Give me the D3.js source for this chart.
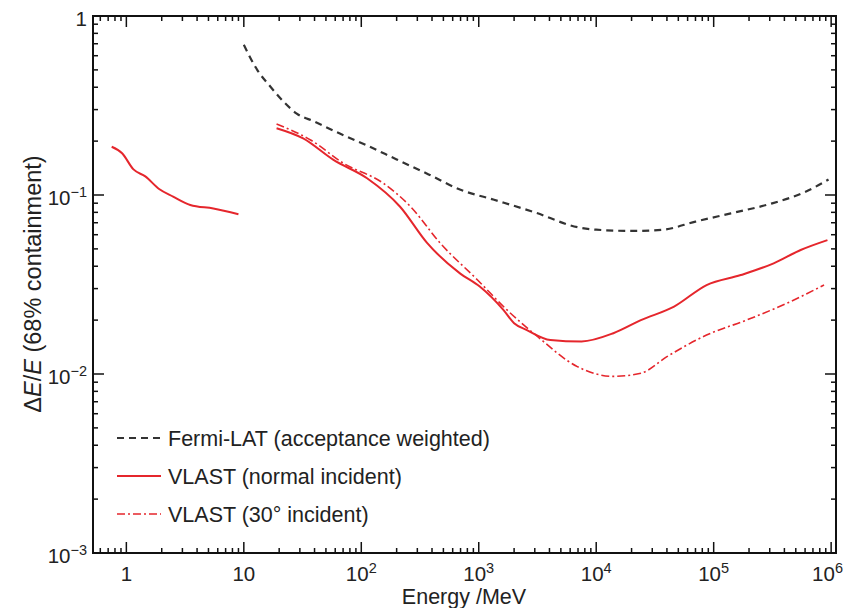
<!DOCTYPE html>
<html>
<head>
<meta charset="utf-8">
<script src="https://cdn.jsdelivr.net/npm/d3@7"></script>
<style>
  html, body { margin: 0; padding: 0; background: #fff; }
  svg { display: block; }
  text { font-family: "Liberation Sans", Arial, Helvetica, sans-serif; fill: #222; }
</style>
</head>
<body>
<svg id="chart" width="844" height="608"></svg>
<script>
// Energy resolution (68% containment) versus energy, in MeV
const fermiEnergy = [10, 13, 17, 22, 28, 40, 65, 110, 200, 360, 700, 1350, 3000, 7000, 10000, 20000, 37000, 70000, 140000, 300000, 600000, 950000];
const fermiRes    = [0.69, 0.50, 0.40, 0.33, 0.286, 0.257, 0.221, 0.19, 0.158, 0.132, 0.107, 0.094, 0.080, 0.066, 0.064, 0.063, 0.064, 0.071, 0.079, 0.089, 0.104, 0.122];

const vlastLowEnergy = [0.75, 0.92, 1.15, 1.45, 1.9, 2.5, 3.5, 5.5, 9.0];
const vlastLowRes    = [0.186, 0.171, 0.139, 0.127, 0.108, 0.098, 0.088, 0.084, 0.078];

const vlastNormalEnergy = [19, 32, 58, 112, 214, 363, 692, 1020, 1620, 2000, 2570, 4070, 7500, 14000, 24000, 46000, 87000, 170000, 324000, 550000, 930000];
const vlastNormalRes    = [0.236, 0.207, 0.157, 0.124, 0.086, 0.054, 0.0365, 0.0308, 0.0228, 0.0192, 0.0176, 0.0155, 0.0152, 0.0169, 0.020, 0.0238, 0.0314, 0.0357, 0.0415, 0.0493, 0.056];

const vlast30Energy = [19, 37, 71, 155, 263, 468, 977, 1740, 3160, 6900, 14000, 24000, 40000, 87000, 190000, 417000, 870000];
const vlast30Res    = [0.249, 0.203, 0.150, 0.116, 0.086, 0.054, 0.0335, 0.0228, 0.0162, 0.011, 0.0097, 0.0101, 0.0125, 0.0165, 0.020, 0.0248, 0.0314];

const xTickExponents = [0, 1, 2, 3, 4, 5, 6];
const yTickExponents = [-3, -2, -1, 0];

const legendLabels = ["Fermi-LAT (acceptance weighted)", "VLAST (normal incident)", "VLAST (30\u00b0 incident)"];

const RED = "#e5262c";
const DARK = "#333";

const svg = d3.select("#chart");
const plot = { left: 93, right: 836, top: 16, bottom: 553 };

const x = d3.scaleLog().domain([0.52, 1.1e6]).range([plot.left, plot.right]);
const y = d3.scaleLog().domain([1e-3, 1]).range([plot.bottom, plot.top]);

const line = d3.line().x(d => x(d[0])).y(d => y(d[1])).curve(d3.curveMonotoneX);
const zip = (a, b) => a.map((v, i) => [v, b[i]]);

const curves = svg.append("g").attr("fill", "none").attr("stroke-linejoin", "round");
curves.append("path")
  .attr("d", line(zip(fermiEnergy, fermiRes)))
  .attr("stroke", DARK).attr("stroke-width", 2.2).attr("stroke-dasharray", "7,5");
curves.append("path")
  .attr("d", line(zip(vlastLowEnergy, vlastLowRes)))
  .attr("stroke", RED).attr("stroke-width", 2);
curves.append("path")
  .attr("d", line(zip(vlastNormalEnergy, vlastNormalRes)))
  .attr("stroke", RED).attr("stroke-width", 2);
curves.append("path")
  .attr("d", line(zip(vlast30Energy, vlast30Res)))
  .attr("stroke", RED).attr("stroke-width", 1.6).attr("stroke-dasharray", "8,3,2,3");

// Frame
svg.append("rect")
  .attr("x", plot.left).attr("y", plot.top)
  .attr("width", plot.right - plot.left).attr("height", plot.bottom - plot.top)
  .attr("fill", "none").attr("stroke", "#111").attr("stroke-width", 2);

// Log ticks on all four sides, pointing inward
function logTicks(scale) {
  const [d0, d1] = scale.domain();
  const out = [];
  for (let e = Math.floor(Math.log10(d0)); e <= Math.ceil(Math.log10(d1)); e++) {
    for (let m = 1; m <= 9; m++) {
      const v = m * Math.pow(10, e);
      if (v >= d0 * 0.999 && v <= d1 * 1.001) out.push({ v, major: m === 1 });
    }
  }
  return out;
}
const ticks = svg.append("g").attr("stroke", "#111").attr("stroke-width", 1.5);
logTicks(x).forEach(t => {
  const len = t.major ? 11 : 5, px = x(t.v);
  ticks.append("line").attr("x1", px).attr("x2", px).attr("y1", plot.bottom).attr("y2", plot.bottom - len);
  ticks.append("line").attr("x1", px).attr("x2", px).attr("y1", plot.top).attr("y2", plot.top + len);
});
logTicks(y).forEach(t => {
  const len = t.major ? 11 : 5, py = y(t.v);
  ticks.append("line").attr("x1", plot.left).attr("x2", plot.left + len).attr("y1", py).attr("y2", py);
  ticks.append("line").attr("x1", plot.right).attr("x2", plot.right - len).attr("y1", py).attr("y2", py);
});

// Power-of-ten label: "1", "10" or 10 with a superscript exponent
function powerLabel(sel, e) {
  if (e === 0) { sel.text("1"); return; }
  if (e === 1) { sel.text("10"); return; }
  sel.append("tspan").text("10");
  sel.append("tspan").attr("dy", -8).attr("font-size", 14.5)
    .text(e < 0 ? "\u2212" + (-e) : String(e));
}

const xLabels = svg.append("g").attr("font-size", 20.5);
xTickExponents.forEach(e => {
  const px = x(Math.pow(10, e));
  const last = e === xTickExponents[xTickExponents.length - 1];
  const t = xLabels.append("text")
    .attr("x", last ? 843 : px)
    .attr("text-anchor", last ? "end" : "middle")
    .attr("y", 581);
  powerLabel(t, e);
});

const yLabels = svg.append("g").attr("font-size", 20.5).attr("text-anchor", "end");
yTickExponents.forEach(e => {
  const t = yLabels.append("text").attr("x", 87).attr("y", y(Math.pow(10, e)) + 10);
  powerLabel(t, e);
});

// Axis titles
svg.append("text").attr("x", 464).attr("y", 604).attr("text-anchor", "middle").attr("font-size", 21.5)
  .text("Energy /MeV");

const yTitle = svg.append("text")
  .attr("transform", "translate(41,284) rotate(-90)")
  .attr("text-anchor", "middle").attr("font-size", 23.5);
yTitle.append("tspan").text("\u0394");
yTitle.append("tspan").attr("font-style", "italic").text("E");
yTitle.append("tspan").text("/");
yTitle.append("tspan").attr("font-style", "italic").text("E");
yTitle.append("tspan").text(" (68% containment)");

// Legend
const legendStyles = [
  { stroke: DARK, width: 2.2, dash: "7,5" },
  { stroke: RED, width: 2, dash: null },
  { stroke: RED, width: 1.6, dash: "8,3,2,3" }
];
const legend = svg.append("g");
legendLabels.forEach((label, i) => {
  const ly = 438 + i * 38;
  const s = legendStyles[i];
  legend.append("line")
    .attr("x1", 117).attr("x2", 161).attr("y1", ly).attr("y2", ly)
    .attr("stroke", s.stroke).attr("stroke-width", s.width)
    .attr("stroke-dasharray", s.dash);
  legend.append("text").attr("x", 168).attr("y", ly + 8).attr("font-size", 21.5).text(label);
});
</script>
</body>
</html>
